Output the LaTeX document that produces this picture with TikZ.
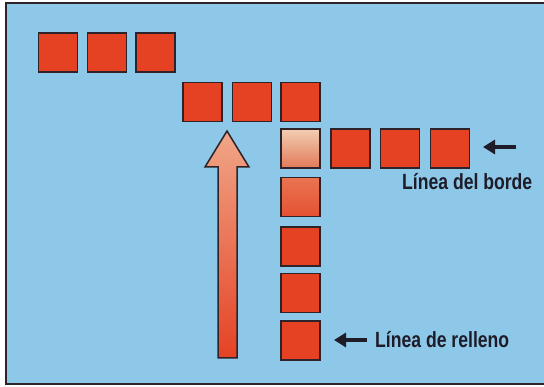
\documentclass[tikz,border=0pt]{standalone}
\usepackage{fontspec}
\setmainfont{Liberation Sans}[FakeStretch=0.8]
\usetikzlibrary{arrows.meta}
\definecolor{bgblue}{RGB}{142,200,232}
\definecolor{sqred}{RGB}{229,66,36}
\definecolor{edge}{RGB}{45,35,40}
\definecolor{lighttop}{RGB}{242,206,178}
\definecolor{lightbot}{RGB}{226,122,90}
\definecolor{midtop}{RGB}{234,116,80}
\definecolor{midbot}{RGB}{228,82,50}
\definecolor{arrtop}{RGB}{240,166,136}
\definecolor{arrbot}{RGB}{229,66,36}
\definecolor{txt}{RGB}{30,28,40}
\begin{document}
\begin{tikzpicture}[x=1pt,y=-1pt,
  sq/.style={draw=edge, line width=1.3pt, fill=sqred, minimum size=39pt, inner sep=0pt, outer sep=0pt},
  sqlight/.style={sq, top color=lighttop, bottom color=lightbot},
  sqmid/.style={sq, top color=midtop, bottom color=midbot},
  lbl/.style={font=\bfseries\fontsize{22}{24}\selectfont, text=txt, inner sep=0pt, anchor=base west},
  ptr/.style={draw=txt, line width=3.5pt, -{Triangle[length=12pt,width=14pt]}, shorten >=0pt}]
\useasboundingbox (0,0) rectangle (544,387);
\fill[white] (0,0) rectangle (544,387);
\fill[bgblue] (6,3) rectangle (544,384);
\draw[edge, line width=2pt] (544,3) -- (6,3) -- (6,384) -- (544,384);
% row 1
\node[sq] (a1) at (58,52.5) {};
\node[sq] (a2) at (107,52.5) {};
\node[sq] (a3) at (155.5,52.5) {};
% row 2
\node[sq] (b1) at (202.5,102) {};
\node[sq] (b2) at (252,102) {};
\node[sq] (b3) at (300.5,102) {};
% row 3 (border line)
\node[sqlight] (c0) at (300.5,148.5) {};
\node[sq] (c1) at (350.5,148.5) {};
\node[sq] (c2) at (400,148.5) {};
\node[sq] (c3) at (450,148.5) {};
% fill column
\node[sqmid] (d1) at (300.5,197) {};
\node[sq] (d2) at (300.5,246.5) {};
\node[sq] (d3) at (300.5,293) {};
\node[sq] (d4) at (300.5,340.5) {};
% big arrow
\shadedraw[top color=arrtop, bottom color=arrbot, draw=edge, line width=1.5pt, line join=miter]
  (227,131) -- (249,167) -- (237,167) -- (237,358) -- (218,358) -- (218,167) -- (205,167) -- cycle;
% labels
\node[lbl] (borde) at (402,190) {Línea del borde};
\node[lbl] (relleno) at (375,348) {Línea de relleno};
\coordinate (bs) at (516,147);
\coordinate (be) at (483,147);
\coordinate (rs) at (367,340);
\coordinate (re) at (334,340);
\draw[ptr] (bs) -- (be);
\draw[ptr] (rs) -- (re);
\end{tikzpicture}
\end{document}
